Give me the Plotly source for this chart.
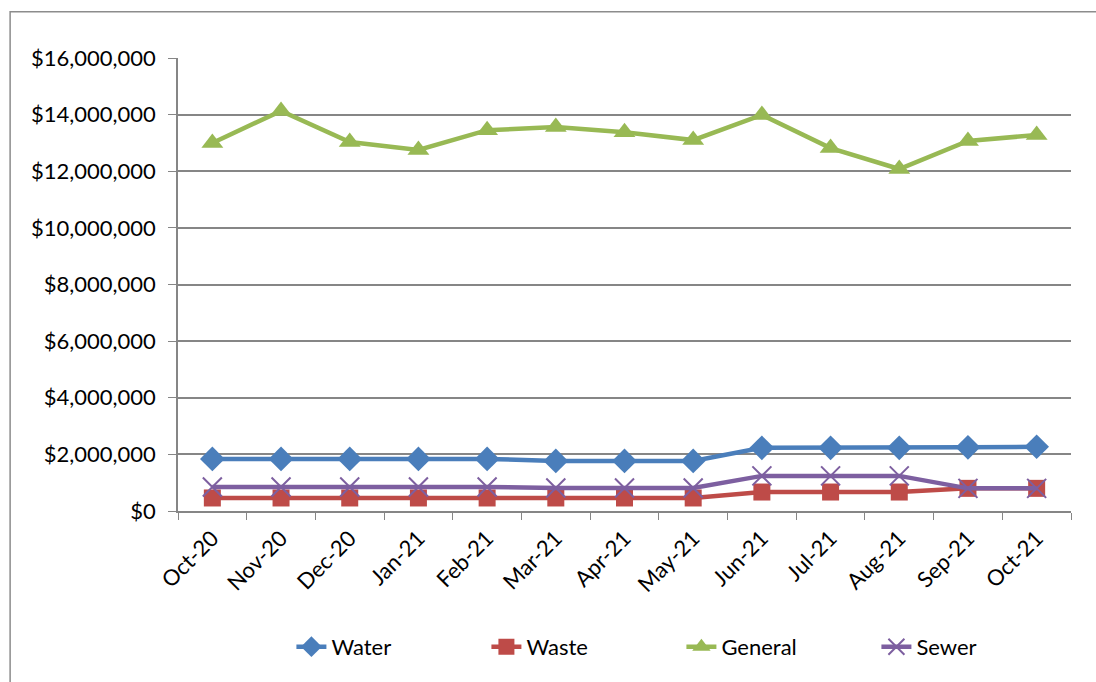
import plotly.graph_objects as go

months = ["Oct-20", "Nov-20", "Dec-20", "Jan-21", "Feb-21", "Mar-21", "Apr-21",
          "May-21", "Jun-21", "Jul-21", "Aug-21", "Sep-21", "Oct-21"]
water = [1840000, 1840000, 1840000, 1840000, 1840000, 1770000, 1770000,
         1770000, 2230000, 2230000, 2230000, 2250000, 2270000]
waste = [460000, 460000, 460000, 460000, 460000, 460000, 460000,
         460000, 670000, 670000, 670000, 800000, 800000]
general = [13000000, 14130000, 13030000, 12750000, 13450000, 13560000, 13380000,
           13100000, 13990000, 12820000, 12080000, 13070000, 13280000]
sewer = [850000, 850000, 850000, 850000, 850000, 810000, 810000,
         810000, 1240000, 1240000, 1240000, 800000, 800000]

series = [
    ("Water", water, "#4A7EBB", "diamond"),
    ("Waste", waste, "#BE4B48", "square"),
    ("General", general, "#98B954", "triangle-up"),
    ("Sewer", sewer, "#7D5FA0", "x-thin-open"),
]

fig = go.Figure()
for name, vals, color, sym in series:
    if sym == "x-thin-open":
        marker = dict(symbol=sym, size=19, color=color, line=dict(color=color, width=2))
    else:
        marker = dict(symbol=sym, size=19 if sym != "square" else 17, color=color,
                      line=dict(width=0))
    fig.add_trace(go.Scatter(x=months, y=vals, name=name, mode="lines+markers",
                             line=dict(color=color, width=4.5), marker=marker))

font = "Lato, Calibri, 'Open Sans', sans-serif"
fig.update_layout(
    width=1096, height=682,
    margin=dict(l=178, r=25, t=58, b=171),
    paper_bgcolor="white", plot_bgcolor="white",
    font=dict(family=font, size=22, color="black"),
    showlegend=True,
    legend=dict(orientation="h", x=0.127, xanchor="left", y=-0.3, yanchor="middle",
                font=dict(size=22), itemwidth=30, tracegroupgap=0,
                entrywidthmode="pixels", entrywidth=150),
    shapes=[dict(type="rect", xref="paper", yref="paper", x0=-0.188, x1=1.2,
                 y0=-0.5, y1=1.102, line=dict(color="#8c8c8c", width=1.5),
                 fillcolor="rgba(0,0,0,0)", layer="below")],
)
fig.update_xaxes(
    type="category", range=[-0.5, 12.5], tickangle=-45, showgrid=False,
    showline=True, linecolor="#868686", linewidth=1.5,
    ticks="outside", tickson="boundaries", ticklen=7, tickcolor="#868686",
    tickfont=dict(size=22), ticklabelstandoff=4,
)
fig.update_yaxes(
    range=[0, 16000000], dtick=2000000, tickprefix="$", tickformat=",d",
    showgrid=True, gridcolor="#868686", gridwidth=1.5,
    showline=True, linecolor="#868686", linewidth=1.5,
    ticks="outside", ticklen=8, tickcolor="#868686", zeroline=False,
    tickfont=dict(size=22), ticklabelstandoff=8,
)
fig.write_html("out.html")
